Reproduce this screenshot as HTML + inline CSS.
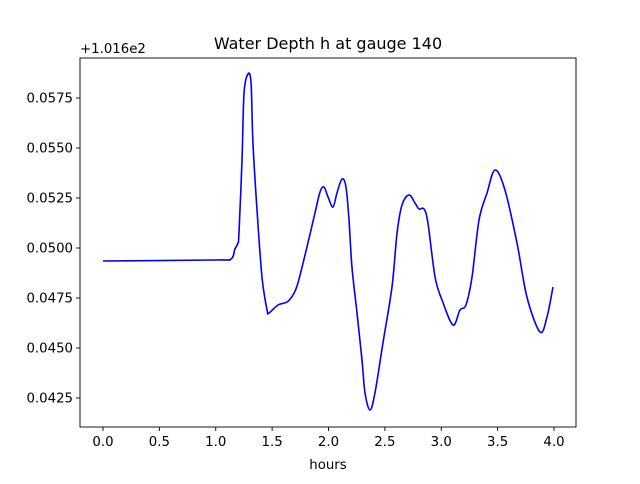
<!DOCTYPE html>
<html><head><meta charset="utf-8"><style>
body{margin:0;background:#fff;font-family:"DejaVu Sans","Liberation Sans",sans-serif}
svg text{font-family:"DejaVu Sans","Liberation Sans",sans-serif}
</style></head><body>
<svg id="chart" width="640" height="480" viewBox="0 0 640 480" xmlns="http://www.w3.org/2000/svg">
<rect width="640" height="480" fill="#fff"/>
<g id="plot"></g>
</svg>
<script>
const hours=[0,0.993,1.135,1.170,1.197,1.206,1.233,1.251,1.286,1.313,1.330,1.366,1.410,1.455,1.472,1.552,1.632,1.685,1.729,1.809,1.880,1.925,1.960,1.996,2.040,2.075,2.120,2.155,2.182,2.208,2.253,2.297,2.324,2.368,2.412,2.483,2.563,2.608,2.652,2.714,2.767,2.803,2.847,2.882,2.945,3.007,3.104,3.166,3.219,3.273,3.335,3.406,3.477,3.565,3.672,3.760,3.876,3.938,3.991];
const depth=[0.04935,0.0494,0.04945,0.04995,0.05025,0.05075,0.0544,0.05775,0.0587,0.05825,0.05525,0.0519,0.04855,0.0469,0.04675,0.04715,0.0473,0.04765,0.04825,0.05005,0.05175,0.0528,0.05305,0.05255,0.05205,0.05275,0.05345,0.05305,0.0514,0.04905,0.04675,0.0444,0.04275,0.0419,0.04275,0.04525,0.04805,0.05075,0.05215,0.05265,0.05225,0.05195,0.05195,0.05125,0.04855,0.0474,0.04615,0.0469,0.04715,0.04855,0.0514,0.05275,0.0539,0.0529,0.05025,0.04755,0.0458,0.04655,0.04805];
const xTicks=[0,0.5,1,1.5,2,2.5,3,3.5,4];
const xTickLabels=["0.0","0.5","1.0","1.5","2.0","2.5","3.0","3.5","4.0"];
const yTicks=[0.0425,0.045,0.0475,0.05,0.0525,0.055,0.0575];
const yTickLabels=["0.0425","0.0450","0.0475","0.0500","0.0525","0.0550","0.0575"];
const L=80,R=576,T=58,B=427;
const xs=h=>103+h*112.75;
const ys=v=>98+(0.0575-v)*20000;
const g=document.getElementById('plot');
const NS='http://www.w3.org/2000/svg';
function mk(tag,attrs){const e=document.createElementNS(NS,tag);for(const k in attrs)e.setAttribute(k,attrs[k]);g.appendChild(e);return e;}
const P=hours.map((h,i)=>[xs(h),ys(depth[i])]);
let d='M'+P[0][0]+','+P[0][1];
for(let i=0;i<P.length-1;i++){const p0=P[Math.max(i-1,0)],p1=P[i],p2=P[i+1],p3=P[Math.min(i+2,P.length-1)];
d+=' C'+(p1[0]+(p2[0]-p0[0])/6)+','+(p1[1]+(p2[1]-p0[1])/6)+' '+(p2[0]-(p3[0]-p1[0])/6)+','+(p2[1]-(p3[1]-p1[1])/6)+' '+p2[0]+','+p2[1];}
const line=mk('path',{d:d,fill:'none',stroke:'#0000ff','stroke-width':1.6,'stroke-linejoin':'round'});


const fr=mk('rect',{x:L,y:T,width:R-L,height:B-T,fill:'none',stroke:'#000','stroke-width':0.9});


xTicks.forEach((t,i)=>{const x=xs(t);
 const tk=mk('line',{x1:x,x2:x,y1:B,y2:B+4,stroke:'#000','stroke-width':0.9});
 
 
 const lb=mk('text',{x:x,y:B+19,'font-size':13.3,'text-anchor':'middle'});lb.textContent=xTickLabels[i];
 
 });
yTicks.forEach((t,i)=>{const y=ys(t);
 const tk=mk('line',{x1:L-4,x2:L,y1:y,y2:y,stroke:'#000','stroke-width':0.9});
 
 
 const lb=mk('text',{x:L-7,y:y+4.5,'font-size':13.3,'text-anchor':'end'});lb.textContent=yTickLabels[i];
 
 });
const off=mk('text',{x:L,y:T-5,'font-size':13.3});off.textContent='+1.016e2';


const ti=mk('text',{x:328,y:49,'font-size':16,'text-anchor':'middle'});ti.textContent='Water Depth h at gauge 140';


const xl=mk('text',{x:328,y:469,'font-size':13.3,'text-anchor':'middle'});xl.textContent='hours';


</script>
</body></html>
